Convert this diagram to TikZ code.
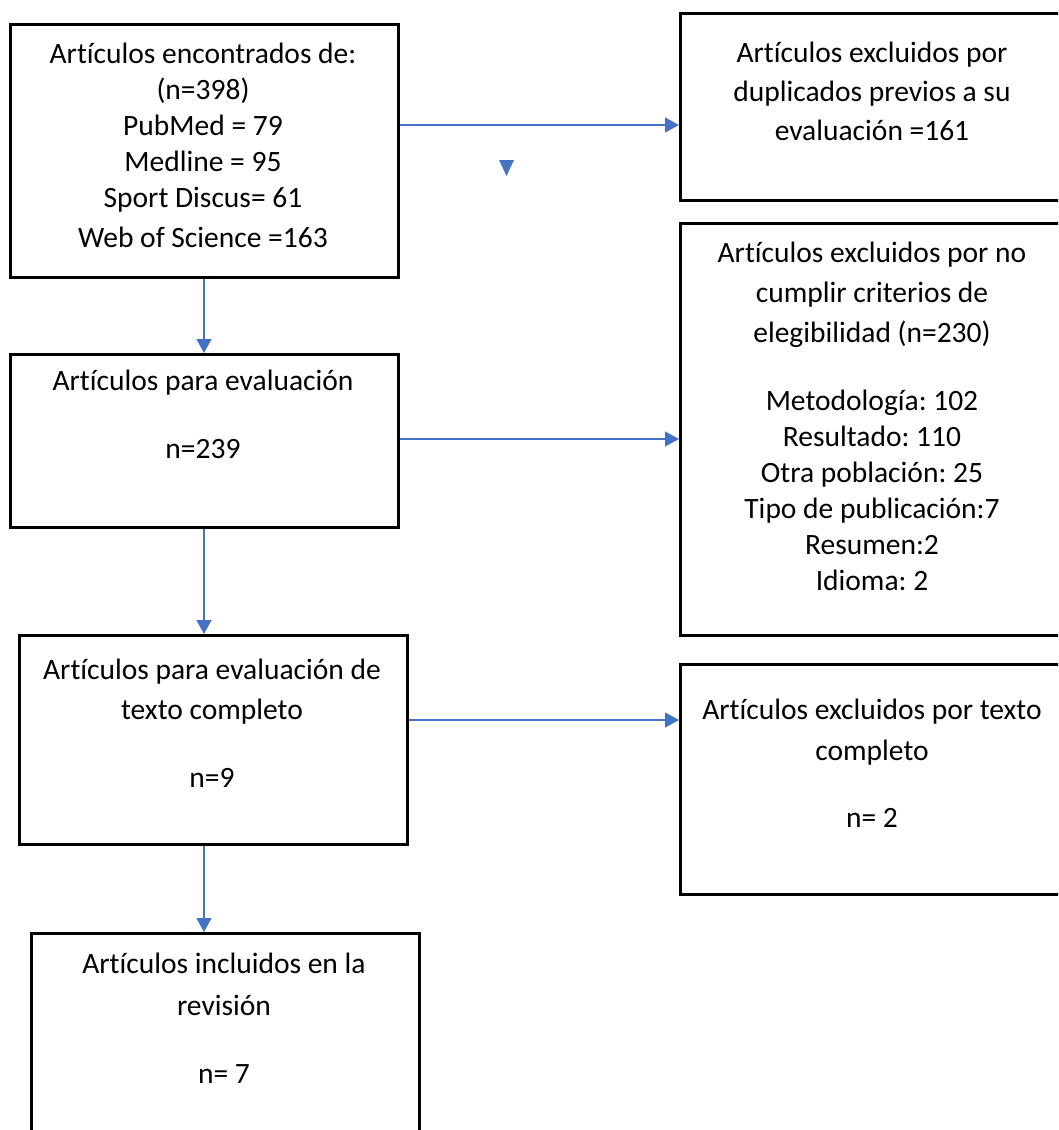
\documentclass[tikz,border=0pt]{standalone}
\usepackage{fontspec}
\setmainfont{Carlito}[Ligatures=CommonOff]
\usetikzlibrary{arrows.meta}
\definecolor{arrowblue}{HTML}{4472C4}
\frenchspacing
\begin{document}
\begin{tikzpicture}[x=1pt,y=-1pt,
  box/.style={draw=black,line width=3pt,rectangle,inner sep=0pt,anchor=north west},
  txt/.style={font=\fontsize{29.5}{36}\selectfont,align=center,anchor=base,inner sep=0pt,text=black},
  link/.style={draw=arrowblue,line width=1.3pt,-{Triangle[length=14pt,width=15pt]}}]
\useasboundingbox (0,0) rectangle (1058,1130);
\fill[white] (0,0) rectangle (1058,1130);
\clip (0,0) rectangle (1058,1130);

% boxes
\node[box,minimum width=388pt,minimum height=253pt] (b1) at (9,23) {};
\node[box,minimum width=386pt,minimum height=187pt] (b2) at (679,12) {};
\node[box,minimum width=386pt,minimum height=412pt] (b3) at (679,222) {};
\node[box,minimum width=388pt,minimum height=173pt] (b4) at (9,353) {};
\node[box,minimum width=388pt,minimum height=209pt] (b5) at (18,634) {};
\node[box,minimum width=386pt,minimum height=230pt] (b7) at (679,663) {};
\node[box,minimum width=388pt,minimum height=220pt] (b6) at (30,932) {};

% texts (anchored at the baseline of the last line)
\node[txt] (t1) at (203,247) {Artículos encontrados de:\\(n=398)\\PubMed = 79\\Medline = 95\\Sport Discus= 61\\[4pt]Web of Science =163};
\node[txt] (t2) at (872,140) {Artículos excluidos por\\[3pt]duplicados previos a su\\[3pt]evaluación =161};
\node[txt] (t3) at (872,590) {Artículos excluidos por no\\[4pt]cumplir criterios de\\[4pt]elegibilidad (n=230)\\[32pt]Metodología: 102\\Resultado: 110\\Otra población: 25\\Tipo de publicación:7\\Resumen:2\\Idioma: 2};
\node[txt] (t4) at (203,458) {Artículos para evaluación\\[32pt]n=239};
\node[txt] (t5) at (212,787) {Artículos para evaluación de\\[4pt]texto completo\\[32pt]n=9};
\node[txt] (t7) at (872,827) {Artículos excluidos por texto\\[5pt]completo\\[31pt]n= 2};
\node[txt] (t6) at (224,1083) {Artículos incluidos en la\\[6pt]revisión\\[32pt]n= 7};

% connector guides
\coordinate (vx) at (204,0);
\coordinate (h1) at (0,125);
\coordinate (h2) at (0,439);
\coordinate (h3) at (0,720);

% connectors
\draw[link] (b1.east |- h1) -- (b2.west |- h1);
\draw[link] (vx |- b1.south) -- (vx |- b4.north);
\draw[link] (b4.east |- h2) -- (b3.west |- h2);
\draw[link] (vx |- b4.south) -- (vx |- b5.north);
\draw[link] (b5.east |- h3) -- (b7.west |- h3);
\draw[link] (vx |- b5.south) -- (vx |- b6.north);

% stray arrowhead
\fill[arrowblue] (499,160) -- (514,160) -- (506.5,176) -- cycle;
\end{tikzpicture}
\end{document}
